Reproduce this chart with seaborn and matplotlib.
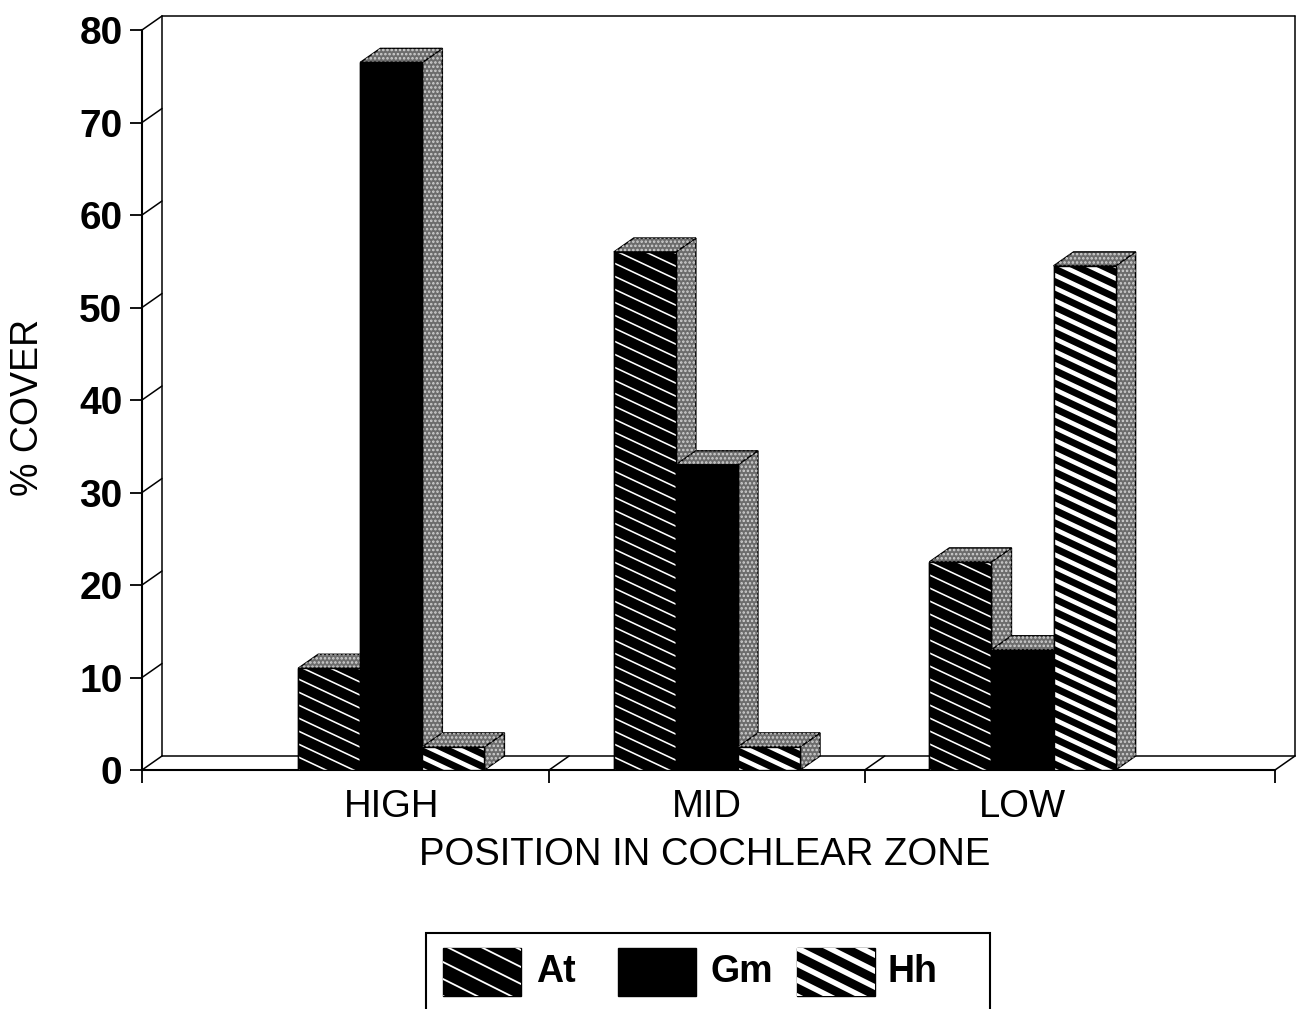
import numpy as np
import pandas as pd
import matplotlib
matplotlib.use("Agg")
import matplotlib.pyplot as plt
from matplotlib.patches import Polygon, Rectangle
from matplotlib.collections import LineCollection
import seaborn as sns

# ---- data -------------------------------------------------------------
zones = ["HIGH", "MID", "LOW"]
species = ["At", "Gm", "Hh"]
at_cover = [11, 56, 22.5]
gm_cover = [76.5, 33, 13]
hh_cover = [2.5, 2.5, 54.5]
y_ticks = [0, 10, 20, 30, 40, 50, 60, 70, 80]

df = pd.DataFrame({
    "zone": zones * 3,
    "species": np.repeat(species, 3),
    "cover": at_cover + gm_cover + hh_cover,
})

sns.set_theme(style="white")
plt.rcParams["font.family"] = ["Liberation Sans", "DejaVu Sans"]
plt.rcParams["hatch.linewidth"] = 1.2

W, H = 1300, 1009
fig = plt.figure(figsize=(W / 100, H / 100), dpi=100)
fig.patch.set_facecolor("white")

# front plane of the plot box (figure pixels)
L, R, B, T = 142, 1275, 770, 30
ax = fig.add_axes([L / W, 1 - B / H, (R - L) / W, (B - T) / H])

sns.barplot(data=df, x="zone", y="cover", hue="species", order=zones,
            hue_order=species, palette=["black"] * 3, saturation=1,
            width=0.59, errorbar=None, legend=False,
            edgecolor="black", linewidth=1.0, ax=ax)

XMIN, XMAX = -0.79, 2.80
ax.set_xlim(XMIN, XMAX)
ax.set_ylim(0, 80)
ax.set_facecolor("none")

# pixel -> data scale factors and the depth of the 3-D effect
sx = (R - L) / (XMAX - XMIN)
sy = (B - T) / 80.0
DXP, DYP = 20, 14
ddx, ddy = DXP / sx, DYP / sy

# ---- spines & ticks ---------------------------------------------------
for s in ["top", "right"]:
    ax.spines[s].set_visible(False)
for s in ["left", "bottom"]:
    ax.spines[s].set_visible(True)
    ax.spines[s].set_color("black")
    ax.spines[s].set_linewidth(1.5)

ax.set_yticks(y_ticks)
ax.set_yticklabels([str(v) for v in y_ticks], fontsize=28, fontweight="bold")
ax.tick_params(axis="y", direction="out", length=9, width=1.3, pad=5,
               colors="black", left=True)
ax.set_xticks([0, 1, 2])
ax.set_xticklabels(zones, fontsize=27.5)
ax.set_xticks([XMIN, 0.5, 1.5, XMAX], minor=True)
ax.tick_params(axis="x", which="major", length=0, pad=14, colors="black")
ax.tick_params(axis="x", which="minor", direction="out", length=9,
               width=1.3, bottom=True, colors="black")

ax.set_xlabel("POSITION IN COCHLEAR ZONE", fontsize=27.5, color="black")
ax.xaxis.set_label_coords((705 - L) / (R - L), (B - 855) / (B - T))
ax.xaxis.label.set_va("center")
ax.set_ylabel("% COVER", fontsize=27, color="black")
ax.yaxis.set_label_coords((28 - L) / (R - L), (B - 407) / (B - T))
ax.yaxis.label.set_va("center")

# ---- back wall and floor of the box -----------------------------------
line_kw = dict(color="black", lw=1.1, clip_on=False, zorder=2)
bx0, bx1 = XMIN + ddx, XMAX + ddx
ax.plot([bx0, bx0], [ddy, 80 + ddy], **line_kw)
ax.plot([bx0, bx1], [80 + ddy, 80 + ddy], **line_kw)
ax.plot([bx1, bx1], [ddy, 80 + ddy], **line_kw)
ax.plot([bx0, bx1], [ddy, ddy], **line_kw)
for v in y_ticks:
    ax.plot([XMIN, XMIN + ddx], [v, v + ddy], **line_kw)
for xv in [0.5, 1.5, XMAX]:
    ax.plot([xv, xv + ddx], [0, ddy], **line_kw)


def stripes(axis, patch, period, lw_px, slope=0.47, zorder=5):
    """White diagonal lines (falling to the right) clipped to a patch."""
    x0, y0, x1, y1 = patch.get_window_extent().extents
    c_lo = y0 + slope * x0 - period
    c_hi = y1 + slope * x1 + period
    segs = []
    inv = axis.transData.inverted()
    for c in np.arange(c_lo, c_hi, period):
        pa = (x0 - 5, c - slope * (x0 - 5))
        pb = (x1 + 5, c - slope * (x1 + 5))
        segs.append(inv.transform([pa, pb]))
    lc = LineCollection(segs, colors="white", linewidths=lw_px * 0.72,
                        transform=axis.transData, zorder=zorder)
    axis.add_collection(lc, autolim=False)
    lc.set_clip_path(patch)


def shaded_face(axis, verts, zorder):
    """Dark grey stippled face with a black outline."""
    axis.add_patch(Polygon(verts, closed=True, facecolor="#6c6c6c",
                           edgecolor="black", lw=1.0, zorder=zorder,
                           clip_on=False))
    axis.add_patch(Polygon(verts, closed=True, facecolor="none",
                           edgecolor="#d2d2d2", lw=0, hatch="....",
                           zorder=zorder, clip_on=False))


hatch_style = {"At": (13, 1.6), "Gm": None, "Hh": (12.7, 4.6)}

fig.canvas.draw()
for hi, (sp, cont) in enumerate(zip(species, ax.containers)):
    base = 10 + 5 * hi
    for bar in cont:
        x0 = bar.get_x()
        x1 = x0 + bar.get_width()
        h = bar.get_height()
        shaded_face(ax, [(x1, 0), (x1 + ddx, ddy), (x1 + ddx, h + ddy), (x1, h)], base)
        shaded_face(ax, [(x0, h), (x1, h), (x1 + ddx, h + ddy), (x0 + ddx, h + ddy)], base)
        bar.set_zorder(base + 1)
        if hatch_style[sp] is not None:
            per, lw = hatch_style[sp]
            stripes(ax, bar, per, lw, zorder=base + 2)
        ax.add_patch(Rectangle((x0, 0), x1 - x0, h, facecolor="none",
                               edgecolor="black", lw=1.0, zorder=base + 3))

# ---- legend box -------------------------------------------------------
lax = fig.add_axes([0, 0, 1, 1], zorder=5)
lax.set_xlim(0, W)
lax.set_ylim(H, 0)
lax.axis("off")
lax.add_patch(Rectangle((426, 933), 564, 120, facecolor="white",
                        edgecolor="black", lw=1.5, clip_on=False))
legend_items = [
    ("At", 443, 536, (17, 1.8)),
    ("Gm", 618, 710, None),
    ("Hh", 797, 888, (16, 5.5)),
]
fig.canvas.draw()
for name, sx0, tx, hs in legend_items:
    sw = Rectangle((sx0, 948), 78, 48, facecolor="black", edgecolor="black",
                   lw=1.0, zorder=2)
    lax.add_patch(sw)
    if hs is not None:
        stripes(lax, sw, hs[0], hs[1], slope=0.5, zorder=3)
    lax.text(tx, 972, name, fontsize=27, fontweight="bold", ha="left",
             va="center", color="black")

fig.savefig("out.png", dpi=100, facecolor="white")
